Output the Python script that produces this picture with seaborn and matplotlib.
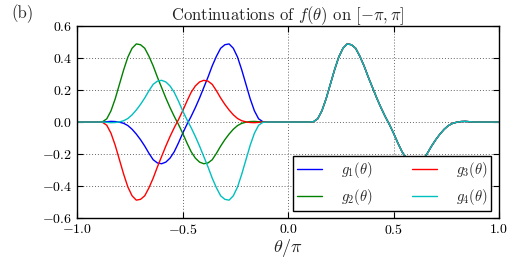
import numpy as np
import pandas as pd
import matplotlib
matplotlib.use("Agg")
import matplotlib.pyplot as plt
import seaborn as sns

theta_right = np.linspace(0.0, 1.0, 51)
f_right = [0.0, 0.0, 0.0, 0.0, 0.0, 0.0,
           0.002, 0.02, 0.07, 0.145, 0.235, 0.325, 0.405, 0.46, 0.487, 0.482,
           0.46, 0.41, 0.35, 0.28, 0.215, 0.15, 0.09, 0.035, -0.015, -0.07,
           -0.13, -0.185, -0.225, -0.25, -0.26, -0.255, -0.235, -0.195, -0.15,
           -0.11, -0.075, -0.045, -0.022, -0.008, -0.001, 0.003, 0.004, 0.002,
           0.0,
           0.0, 0.0, 0.0, 0.0, 0.0, 0.0]

labels = [r'$g_1(\theta)$', r'$g_2(\theta)$', r'$g_3(\theta)$', r'$g_4(\theta)$']
colors = ['#0000ff', '#008000', '#ff0000', '#00bfbf']

f_right = np.array(f_right)
theta_left = theta_right[:-1] - 1.0
# the four continuations onto [-pi, 0]
left_parts = [
    f_right[::-1][:-1],     # even
    f_right[:-1],           # periodic
    -f_right[:-1],          # anti-periodic
    -f_right[::-1][:-1],    # odd
]

frames = []
for lab, left in zip(labels, left_parts):
    frames.append(pd.DataFrame({
        'theta': np.concatenate([theta_left, theta_right]),
        'value': np.concatenate([left, f_right]),
        'series': lab,
    }))
df = pd.concat(frames, ignore_index=True)

sns.set_style("ticks")
plt.rcParams['font.family'] = ['cmr10']
plt.rcParams['mathtext.fontset'] = 'cm'
plt.rcParams['axes.formatter.use_mathtext'] = True
plt.rcParams['axes.unicode_minus'] = True

fig = plt.figure(figsize=(5.15, 2.58), dpi=100)
ax = fig.add_axes([0.150, 0.154, 0.819, 0.746])

sns.lineplot(data=df, x='theta', y='value', hue='series', hue_order=labels,
             palette=dict(zip(labels, colors)), linewidth=1.0, ax=ax,
             estimator=None, sort=False)

ax.set_xlim(-1, 1)
ax.set_ylim(-0.6, 0.6)
ax.set_xticks([-1.0, -0.5, 0.0, 0.5, 1.0])
ax.set_yticks([-0.6, -0.4, -0.2, 0.0, 0.2, 0.4, 0.6])
ax.grid(True, color='0.4', linestyle=(0, (1, 2)), linewidth=0.7)
ax.tick_params(direction='in', top=True, right=True, length=4, width=0.8,
               labelsize=10, colors='black', pad=3.5)
for sp in ax.spines.values():
    sp.set_color('black')
    sp.set_linewidth(1.0)

ax.set_title(r'Continuations of $f(\theta)$ on $[-\pi,\pi]$', fontsize=12, pad=4)
ax.set_xlabel(r'$\theta/\pi$', fontsize=13, labelpad=0)
ax.set_ylabel('')

ax.legend(ncol=2, loc='lower right', bbox_to_anchor=(0.981, 0.038),
          borderaxespad=0, fancybox=False, edgecolor='black', framealpha=1,
          fontsize=10.5, handlelength=1.7, handletextpad=1.3,
          columnspacing=2.7, labelspacing=0.5, borderpad=0.25)
ax.get_legend().get_frame().set_linewidth(1.0)

fig.text(0.022, 0.985, '(b)', va='top', ha='left', fontsize=12)

fig.savefig('out.png', dpi=100)
